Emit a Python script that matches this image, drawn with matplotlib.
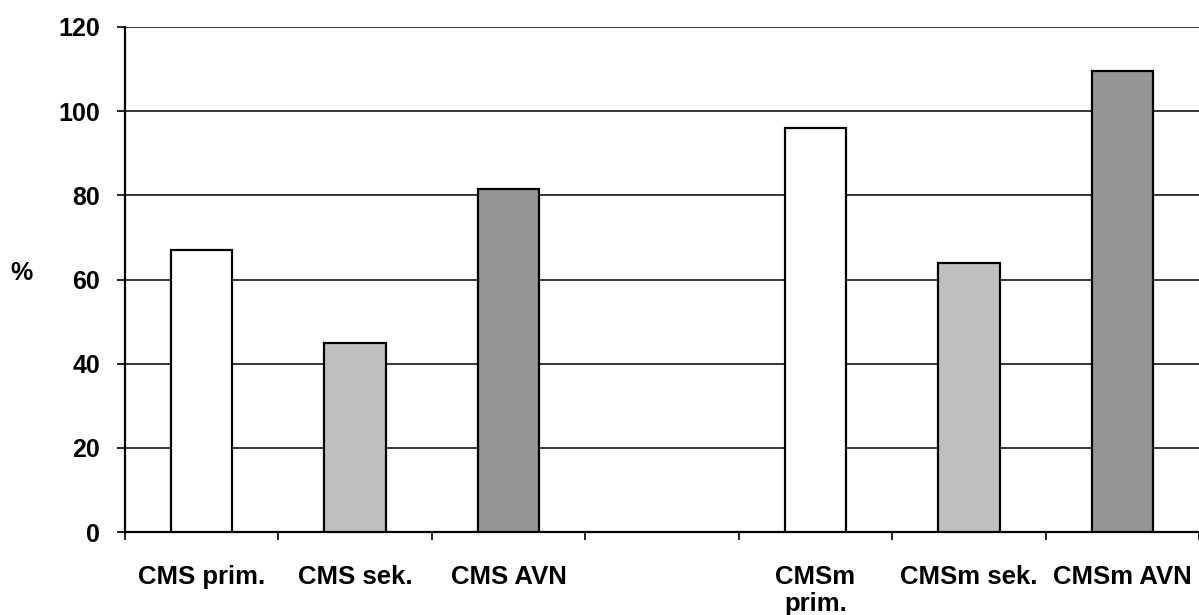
import matplotlib.pyplot as plt
import numpy as np
from matplotlib.ticker import FixedLocator, NullFormatter

plt.rcParams['font.family'] = ['Liberation Sans', 'DejaVu Sans']
plt.rcParams['font.weight'] = 'bold'

categories = ["CMS prim.", "CMS sek.", "CMS AVN", "", "CMSm\nprim.", "CMSm sek.", "CMSm AVN"]
values = [67, 45, 81.5, np.nan, 96, 64, 109.5]
colors = ["#FFFFFF", "#C0C0C0", "#969696", "#FFFFFF", "#FFFFFF", "#C0C0C0", "#969696"]
yticks = [0, 20, 40, 60, 80, 100, 120]

fig = plt.figure(figsize=(11.99, 6.15), dpi=100)
ax = fig.add_axes([125 / 1199, 1 - 532 / 615, 1 - 125 / 1199, 505 / 615])

x = np.arange(len(categories))
for xi, v, c in zip(x, values, colors):
    if np.isnan(v):
        continue
    ax.bar(xi, v, width=0.4, color=c, edgecolor="black", linewidth=1.6, zorder=3)

ax.set_xlim(-0.5, len(categories) - 0.5)
ax.set_ylim(0, 120)

ax.set_yticks(yticks)
ax.set_yticklabels([str(t) for t in yticks], fontsize=18, fontweight="bold")
ax.tick_params(axis="y", direction="out", length=6, width=1.2, pad=12)

# category boundaries carry the tick marks; labels sit at the centres
ax.xaxis.set_major_locator(FixedLocator(np.arange(-0.5, len(categories), 1.0)))
ax.xaxis.set_major_formatter(NullFormatter())
ax.xaxis.set_minor_locator(FixedLocator(x))
ax.set_xticklabels(categories, minor=True, fontsize=18.5, fontweight="bold", va="top",
                   linespacing=1.15)
ax.tick_params(axis="x", which="major", direction="out", length=6, width=1.2)
ax.tick_params(axis="x", which="minor", length=0, pad=24)

ax.yaxis.grid(True, color="black", linewidth=1.1, zorder=0)
ax.set_axisbelow(True)

ax.spines["top"].set_visible(False)
ax.spines["right"].set_visible(False)
ax.spines["left"].set_linewidth(1.6)
ax.spines["bottom"].set_linewidth(1.6)

ax.set_ylabel("%", rotation=0, fontsize=18, fontweight="bold", labelpad=0,
              ha="center", va="center")
ax.yaxis.set_label_coords(-0.096, 0.513)

fig.savefig("out.png", dpi=100)
